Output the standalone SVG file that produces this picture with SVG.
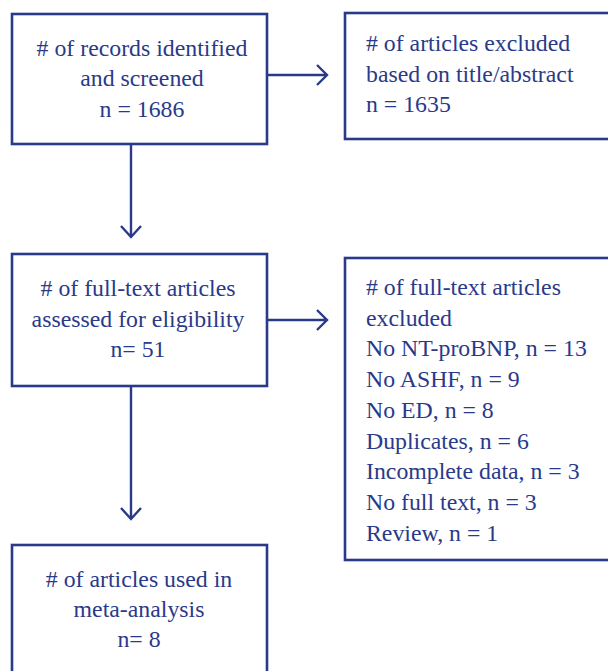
<svg xmlns="http://www.w3.org/2000/svg" width="608" height="671" viewBox="0 0 608 671">
<style>
.box{fill:#fff;stroke:#2a3a8a;stroke-width:2.6}
.t{font-family:'Liberation Serif','Times New Roman',Times,serif;font-size:23.8px;fill:#2a3a8a}
.c{text-anchor:middle}
.ln{fill:none;stroke:#2a3a8a;stroke-width:2.4}
</style>
<rect width="608" height="671" fill="#fff"/>
<g id="connectors">
<path class="ln" d="M267 75H327M317 65L327 75L317 85"/>
<path class="ln" d="M131 145V237M121 226L131 237L141 226"/>
<path class="ln" d="M267 320H327M317 310L327 320L317 330"/>
<path class="ln" d="M131 386V519M121 508L131 519L141 508"/>
</g>
<g id="n1">
<rect class="box" x="12" y="14" width="255" height="130"/>
<text class="t c" x="142" y="55.5"><tspan x="142">&#35; of records identified</tspan><tspan x="142" dy="30.6">and screened</tspan><tspan x="142" dy="30.6">n = 1686</tspan></text>
</g>
<g id="n2">
<rect class="box" x="345" y="13" width="280" height="126"/>
<text class="t" x="366" y="51"><tspan x="366"># of articles excluded</tspan><tspan x="366" dy="30.6">based on title/abstract</tspan><tspan x="366" dy="30.6">n = 1635</tspan></text>
</g>
<g id="n3">
<rect class="box" x="12" y="254" width="255" height="132"/>
<text class="t c" x="138" y="296"><tspan x="138"># of full-text articles</tspan><tspan x="138" dy="30.6">assessed for eligibility</tspan><tspan x="138" dy="30.6">n= 51</tspan></text>
</g>
<g id="n4">
<rect class="box" x="345" y="258" width="280" height="302"/>
<text class="t" x="366" y="295"><tspan x="366"># of full-text articles</tspan><tspan x="366" dy="30.7">excluded</tspan><tspan x="366" dy="30.7">No NT-proBNP, n = 13</tspan><tspan x="366" dy="30.7">No ASHF, n = 9</tspan><tspan x="366" dy="30.7">No ED, n = 8</tspan><tspan x="366" dy="30.7">Duplicates, n = 6</tspan><tspan x="366" dy="30.7">Incomplete data, n = 3</tspan><tspan x="366" dy="30.7">No full text, n = 3</tspan><tspan x="366" dy="30.7">Review, n = 1</tspan></text>
</g>
<g id="n5">
<rect class="box" x="12" y="545" width="255" height="140"/>
<text class="t c" x="139" y="586.5"><tspan x="139"># of articles used in</tspan><tspan x="139" dy="30.4">meta-analysis</tspan><tspan x="139" dy="30.4">n= 8</tspan></text>
</g>
</svg>
